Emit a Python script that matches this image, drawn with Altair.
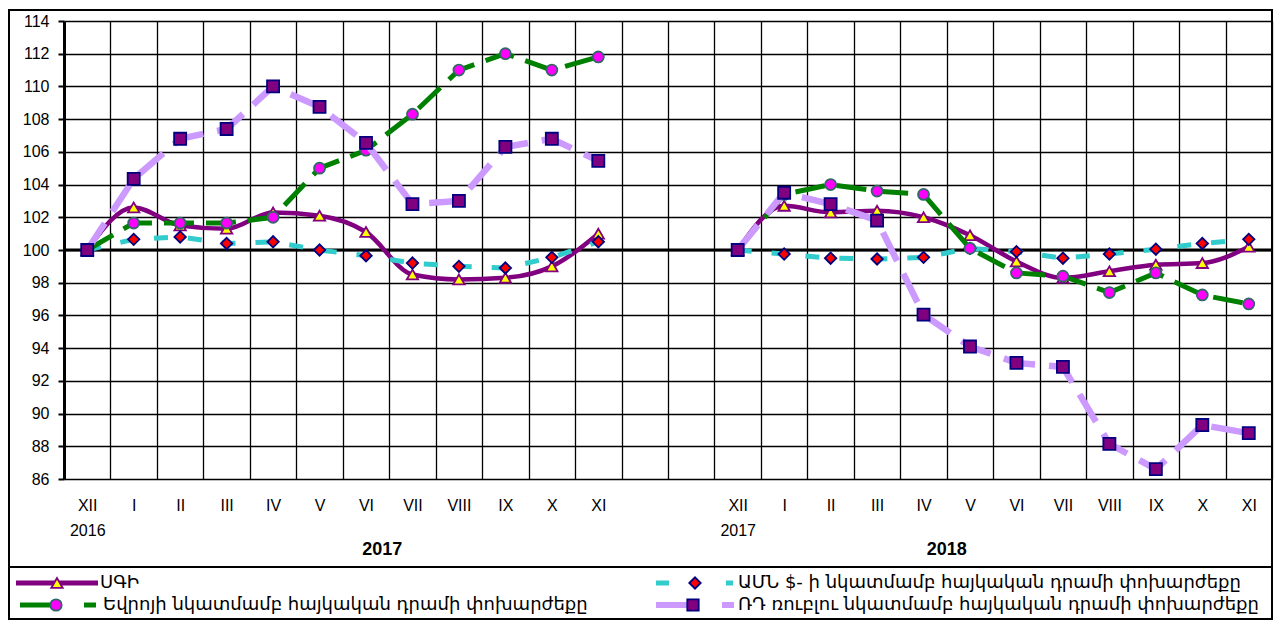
import json
import altair as alt
import pandas as pd

# ---------------- data ----------------
months = ["XII", "I", "II", "III", "IV", "V", "VI", "VII", "VIII", "IX", "X", "XI"]
group_years = ["2017", "2018"]
start_years = ["2016", "2017"]
y_ticks = list(range(86, 115, 2))

s_cpi = "ՍԳԻ"
s_usd = "ԱՄՆ $- ի նկատմամբ հայկական դրամի փոխարժեքը"
s_eur = "Եվրոյի նկատմամբ հայկական դրամի փոխարժեքը"
s_rub = "ՌԴ ռուբլու նկատմամբ հայկական դրամի  փոխարժեքը"

cpi_2017 = [100, 102.6, 101.5, 101.3, 102.3, 102.1, 101.1, 98.5, 98.2, 98.3, 99.0, 101.0]
cpi_2018 = [100, 102.7, 102.3, 102.4, 102.0, 100.9, 99.3, 98.3, 98.7, 99.1, 99.2, 100.2]

usd_2017 = [100, 100.65, 100.8, 100.4, 100.5, 100.0, 99.65, 99.2, 99.0, 98.9, 99.55, 100.5]
usd_2018 = [100, 99.75, 99.5, 99.45, 99.55, 100.1, 99.9, 99.5, 99.75, 100.05, 100.4, 100.65]

eur_2017 = [100, 101.65, 101.65, 101.65, 102.0, 105.0, 106.1, 108.3, 111.0, 112.0, 111.0, 111.8]
eur_2018 = [100, 103.4, 104.0, 103.6, 103.4, 100.1, 98.6, 98.4, 97.4, 98.6, 97.25, 96.7]

rub_2017 = [100, 104.35, 106.8, 107.4, 110.0, 108.75, 106.55, 102.8, 103.0, 106.3, 106.8, 105.45]
rub_2018 = [100, 103.5, 102.8, 101.8, 96.05, 94.1, 93.1, 92.85, 88.15, 86.6, 89.3, 88.8]

# ---------------- layout ----------------
W, H = 1208, 458
GAP = 2  # empty slots between the two years
N = len(months) * 2 + GAP
OFF2 = len(months) + GAP

rows = []
for name, a, b in [(s_cpi, cpi_2017, cpi_2018), (s_usd, usd_2017, usd_2018),
                   (s_eur, eur_2017, eur_2018), (s_rub, rub_2017, rub_2018)]:
    for i, v in enumerate(a):
        rows.append({"idx": i, "value": v, "series": name, "grp": group_years[0]})
    for i, v in enumerate(b):
        rows.append({"idx": OFF2 + i, "value": v, "series": name, "grp": group_years[1]})
df = pd.DataFrame(rows)

labels = []
for i in range(N):
    if i < len(months):
        lab = months[i]
        labels.append([lab, start_years[0]] if i == 0 else lab)
    elif i >= OFF2:
        lab = months[i - OFF2]
        labels.append([lab, start_years[1]] if i == OFF2 else lab)
    else:
        labels.append("")

FONT = "Liberation Sans"
AFONT = "DejaVu Sans"

x_axis = alt.Axis(
    values=[k * 0.5 for k in range(0, 2 * N)],
    labelExpr="datum.value % 1 ? '' : " + json.dumps(labels) + "[datum.value]",
    grid=True, gridColor="black", gridWidth=1.3,
    gridOpacity={"condition": {"test": "datum.value % 1 === 0", "value": 0}, "value": 1},
    ticks=False, tickSize=0, domain=False, labelPadding=18, labelLineHeight=25,
    labelFont=FONT, labelFontSize=16, labelColor="black", labelOverlap=False,
    labelFlush=False, title=None,
)
x_scale = alt.Scale(domain=[-0.5, N - 0.5], nice=False, zero=False)
y_axis = alt.Axis(
    values=y_ticks, tickCount=len(y_ticks), grid=True, gridColor="black", gridWidth=1.6,
    domain=True, domainColor="black", domainWidth=3, ticks=True, tickColor="black",
    tickSize=6, tickWidth=2, labelFont=FONT, labelFontSize=16, labelColor="black",
    labelPadding=9, labelOverlap=False, labelFlush=False, title=None,
)
y_scale = alt.Scale(domain=[86, 114], nice=False, zero=False)

x_enc = alt.X("idx:Q", scale=x_scale, axis=x_axis)
y_enc = alt.Y("value:Q", scale=y_scale, axis=y_axis)

styles = {
    s_cpi: dict(color="#800080", width=4.5, dash=None, interp="monotone",
                shape="triangle-up", fill="#FFFF00", stroke="#800080", size=130),
    s_usd: dict(color="#33CCCC", width=5, dash=[14, 20], interp="linear",
                shape="diamond", fill="#FF0000", stroke="#000080", size=130),
    s_eur: dict(color="#008000", width=5, dash=[30, 12], interp="linear",
                shape="circle", fill="#FF00FF", stroke="#336666", size=120),
    s_rub: dict(color="#CC99FF", width=6.5, dash=[32, 14], interp="linear",
                shape="square", fill="#800080", stroke="#000080", size=145),
}

dummy = pd.DataFrame({"a": [0]})

base_rule = alt.Chart(pd.DataFrame({"value": [100]})).mark_rule(
    color="black", strokeWidth=3
).encode(y=y_enc)

layers = [base_rule]
for name in [s_cpi, s_usd, s_eur, s_rub]:
    st = styles[name]
    sub = df[df["series"] == name]
    lkw = dict(color=st["color"], strokeWidth=st["width"], interpolate=st["interp"])
    if st["dash"]:
        lkw["strokeDash"] = st["dash"]
    line = alt.Chart(sub).mark_line(**lkw).encode(x=x_enc, y=y_enc, detail="grp:N")
    pts = alt.Chart(sub).mark_point(
        shape=st["shape"], filled=True, fill=st["fill"], stroke=st["stroke"],
        strokeWidth=1.8, size=st["size"], opacity=1,
    ).encode(x=x_enc, y=y_enc)
    layers += [line, pts]

# year group titles
yr = pd.DataFrame({"t": group_years, "idx": [6.35, 18.5]})
year_text = alt.Chart(yr).mark_text(
    font=FONT, fontSize=18, fontWeight="bold", color="black"
).encode(x=x_enc, y=alt.value(H + 71), text="t:N")
layers.append(year_text)

# outer frame and legend separator
frame = alt.Chart(dummy).mark_rect(fillOpacity=0, stroke="black", strokeWidth=2).encode(
    x=alt.value(-55), x2=alt.value(W), y=alt.value(-11), y2=alt.value(H + 140)
)
sep = alt.Chart(dummy).mark_rule(color="black", strokeWidth=2).encode(
    x=alt.value(-55), x2=alt.value(W), y=alt.value(H + 88)
)
layers += [frame, sep]

# legend (built manually: line sample + marker + text)
r1, r2 = H + 104, H + 126
leg_lines = pd.DataFrame([
    {"x": -48, "x2": 34, "y": r1, "c": styles[s_cpi]["color"], "w": 5},
    {"x": -44, "x2": -9, "y": r2, "c": styles[s_eur]["color"], "w": 5},
    {"x": 20, "x2": 32, "y": r2, "c": styles[s_eur]["color"], "w": 5},
    {"x": 592, "x2": 605, "y": r1, "c": styles[s_usd]["color"], "w": 5},
    {"x": 662, "x2": 669, "y": r1, "c": styles[s_usd]["color"], "w": 5},
    {"x": 592, "x2": 626, "y": r2, "c": styles[s_rub]["color"], "w": 6},
    {"x": 658, "x2": 670, "y": r2, "c": styles[s_rub]["color"], "w": 6},
])
leg_pts = pd.DataFrame([
    {"x": -7, "y": r1, **{k: styles[s_cpi][k] for k in ("shape", "fill", "stroke")}},
    {"x": -8, "y": r2, **{k: styles[s_eur][k] for k in ("shape", "fill", "stroke")}},
    {"x": 631, "y": r1, **{k: styles[s_usd][k] for k in ("shape", "fill", "stroke")}},
    {"x": 629, "y": r2, **{k: styles[s_rub][k] for k in ("shape", "fill", "stroke")}},
])
leg_txt = pd.DataFrame([
    {"x": 36, "y": r1, "t": s_cpi},
    {"x": 39, "y": r2, "t": s_eur},
    {"x": 674, "y": r1, "t": s_usd},
    {"x": 674, "y": r2, "t": s_rub},
])
lg_l = alt.Chart(leg_lines).mark_rule().encode(
    x=alt.X("x:Q", scale=None), x2="x2:Q", y=alt.Y("y:Q", scale=None),
    color=alt.Color("c:N", scale=None), strokeWidth=alt.StrokeWidth("w:Q", scale=None),
)
lg_p = alt.Chart(leg_pts).mark_point(filled=True, size=130, strokeWidth=1.8, opacity=1).encode(
    x=alt.X("x:Q", scale=None), y=alt.Y("y:Q", scale=None),
    shape=alt.Shape("shape:N", scale=None), fill=alt.Fill("fill:N", scale=None),
    stroke=alt.Stroke("stroke:N", scale=None),
)
lg_t = alt.Chart(leg_txt).mark_text(align="left", baseline="middle", font=AFONT,
                                    fontSize=18, color="black").encode(
    x=alt.X("x:Q", scale=None), y=alt.Y("y:Q", scale=None), text="t:N"
)
layers += [lg_l, lg_p, lg_t]

chart = alt.layer(*layers).properties(
    width=W, height=H,
    autosize=alt.AutoSizeParams(type="none"),
    padding={"left": 56, "top": 13, "right": 2, "bottom": 142},
).configure_view(stroke=None).configure(background="white")

chart.save("out.html", embed_options={"renderer": "svg", "actions": False})
